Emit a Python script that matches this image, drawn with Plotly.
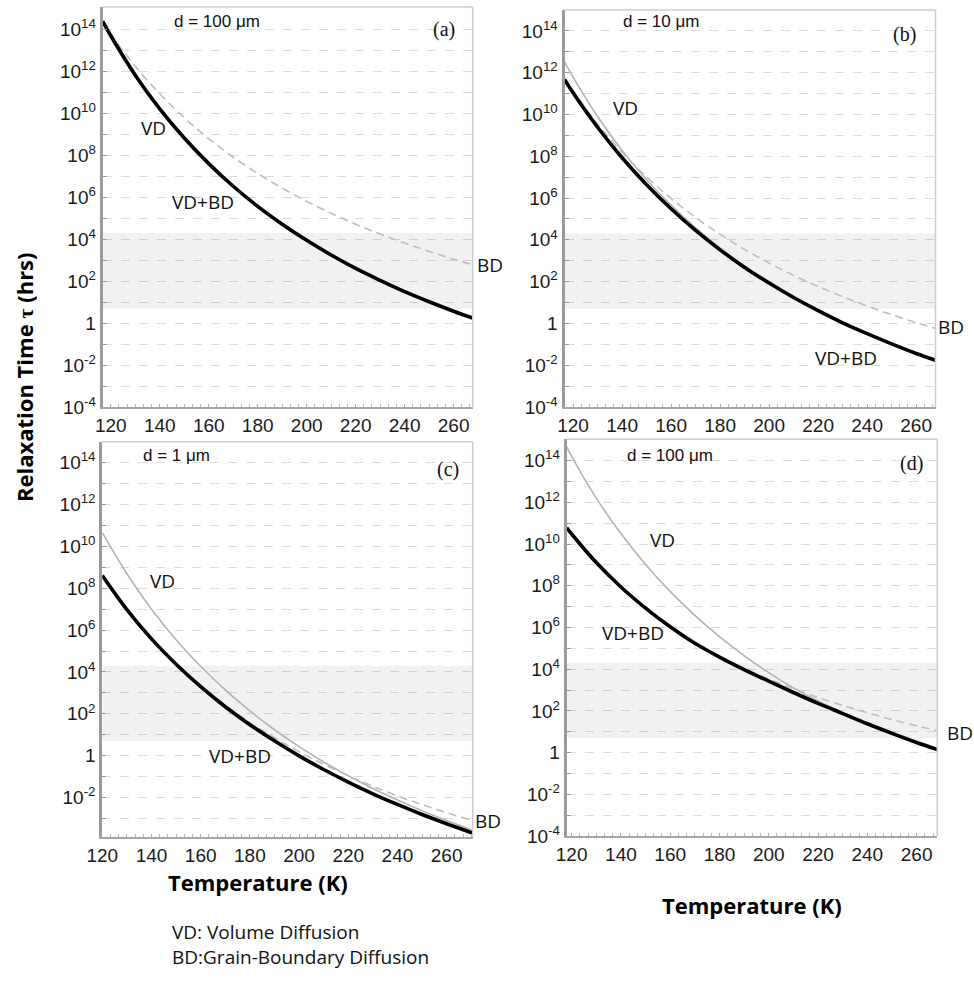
import plotly.graph_objects as go

W, H = 974, 981

# ---------------- data (log10 of relaxation time in hours) ----------------
T_a = [116.7, 120, 130, 140, 150, 160, 170, 180, 190, 200, 210, 220, 230, 240, 250, 260, 267.8]
vdbd_a = [14.40, 13.71, 11.83, 10.22, 8.83, 7.61, 6.53, 5.57, 4.72, 3.95, 3.25, 2.61, 2.04, 1.50, 1.02, 0.57, 0.24]
vd_a = [14.45, 13.75, 11.85, 10.23, 8.84, 7.62, 6.54, 5.58, 4.73, 3.96, 3.26, 2.62, 2.05, 1.51, 1.03, 0.58, 0.25]
bd_a = [14.35, 13.79, 12.25, 10.94, 9.80, 8.80, 7.92, 7.14, 6.44, 5.81, 5.24, 4.72, 4.25, 3.82, 3.42, 3.05, 2.78]

T_b = [116.5, 120, 130, 140, 150, 160, 170, 180, 190, 200, 210, 220, 230, 240, 250, 260, 267.9]
vdbd_b = [11.68, 11.04, 9.39, 7.93, 6.64, 5.49, 4.45, 3.52, 2.68, 1.93, 1.24, 0.61, 0.03, -0.49, -0.98, -1.44, -1.76]
vd_b = [12.52, 11.79, 9.90, 8.28, 6.88, 5.66, 4.57, 3.61, 2.75, 1.98, 1.28, 0.64, 0.06, -0.47, -0.96, -1.42, -1.75]
bd_b = [11.75, 11.13, 9.55, 8.19, 7.01, 5.98, 5.07, 4.27, 3.54, 2.89, 2.30, 1.77, 1.28, 0.83, 0.42, 0.04, -0.24]

T_c = [120, 130, 140, 150, 160, 170, 180, 190, 200, 210, 220, 230, 240, 250, 260, 270.5]
vdbd_c = [8.61, 6.98, 5.58, 4.37, 3.30, 2.34, 1.48, 0.71, -0.01, -0.66, -1.26, -1.82, -2.33, -2.81, -3.25, -3.69]
vd_c = [10.65, 8.69, 7.00, 5.54, 4.27, 3.14, 2.14, 1.24, 0.43, -0.30, -0.96, -1.57, -2.12, -2.63, -3.10, -3.56]
bd_c = [8.61, 6.99, 5.60, 4.40, 3.35, 2.42, 1.59, 0.86, 0.19, -0.41, -0.96, -1.46, -1.92, -2.34, -2.72, -3.10]

T_d = [118, 120, 130, 140, 150, 160, 170, 180, 190, 200, 210, 220, 230, 240, 250, 260, 268.4]
vdbd_d = [10.78, 10.48, 9.11, 7.94, 6.93, 6.03, 5.24, 4.58, 3.98, 3.42, 2.88, 2.36, 1.87, 1.38, 0.92, 0.48, 0.14]
vd_d = [14.67, 14.20, 12.20, 10.50, 9.02, 7.73, 6.58, 5.56, 4.65, 3.83, 3.10, 2.47, 1.92, 1.42, 0.97, 0.54, 0.19]
bd_d = [10.78, 10.48, 9.11, 7.94, 6.93, 6.04, 5.25, 4.61, 4.04, 3.53, 3.06, 2.64, 2.26, 1.91, 1.58, 1.28, 1.05]

# shaded observation window (hours)
band_lo, band_hi = 5.0, 2.0e4

x_ticks = [120, 140, 160, 180, 200, 220, 240, 260]
y_major = list(range(-4, 15, 2))
y_minor = list(range(-3, 15, 2))

panels = [
    dict(T=T_a, vdbd=vdbd_a, vd=vd_a, bd=bd_a, xr=[116.7, 267.8], yr=[-4.0, 15.08],
         xd=(102.7, 472.7), yd=(7, 407)),
    dict(T=T_b, vdbd=vdbd_b, vd=vd_b, bd=bd_b, xr=[116.5, 267.9], yr=[-4.0, 15.0],
         xd=(564.5, 935.5), yd=(10, 407)),
    dict(T=T_c, vdbd=vdbd_c, vd=vd_c, bd=bd_c, xr=[120.0, 270.6], yr=[-3.87, 15.0],
         xd=(102.3, 472.7), yd=(441.7, 836.7)),
    dict(T=T_d, vdbd=vdbd_d, vd=vd_d, bd=bd_d, xr=[118.0, 268.4], yr=[-4.0, 15.02],
         xd=(566.7, 937.3), yd=(439.3, 836)),
]


def ylab(k):
    if k == 0:
        return "1"
    return "10<sup>%d</sup>" % k


fig = go.Figure()
layout = dict(width=W, height=H, autosize=False, margin=dict(l=0, r=0, t=0, b=0, pad=0),
              paper_bgcolor="white", plot_bgcolor="white", showlegend=False)
shapes = []
tick_font = dict(family="Liberation Sans, Arial", size=19, color="#1a1a1a")

for i, p in enumerate(panels):
    n = "" if i == 0 else str(i + 1)
    xa, ya = "x" + n, "y" + n
    # band
    fig.add_trace(go.Scatter(x=[p["xr"][0], p["xr"][1], p["xr"][1], p["xr"][0]],
                             y=[band_lo, band_lo, band_hi, band_hi], fill="toself",
                             fillcolor="rgba(0,0,0,0.055)", line=dict(width=0),
                             mode="lines", hoverinfo="skip", xaxis=xa, yaxis=ya))
    fig.add_trace(go.Scatter(x=p["T"], y=[10 ** v for v in p["vd"]], mode="lines",
                             line=dict(color="#b3b3b3", width=1.6, shape="spline"),
                             xaxis=xa, yaxis=ya))
    fig.add_trace(go.Scatter(x=p["T"], y=[10 ** v for v in p["bd"]], mode="lines",
                             line=dict(color="#bdbdbd", width=1.6, dash="8px,5px", shape="spline"),
                             xaxis=xa, yaxis=ya))
    fig.add_trace(go.Scatter(x=p["T"], y=[10 ** v for v in p["vdbd"]], mode="lines",
                             line=dict(color="black", width=3.6, shape="spline"),
                             xaxis=xa, yaxis=ya))
    layout["xaxis" + n] = dict(
        domain=[p["xd"][0] / W, p["xd"][1] / W], range=p["xr"], anchor=ya,
        automargin=False,
        tickmode="array", tickvals=x_ticks, ticktext=[str(v) for v in x_ticks],
        ticks="inside", ticklen=3, tickcolor="#aaaaaa", showgrid=False,
        showline=True, linecolor="#a6a6a6", linewidth=2, tickfont=tick_font,
        minor=dict(ticks="inside", ticklen=3, tickcolor="#bbbbbb", dtick=20 / 6, tick0=120),
        zeroline=False, fixedrange=True)
    layout["yaxis" + n] = dict(
        domain=[1 - p["yd"][1] / H, 1 - p["yd"][0] / H], type="log", range=p["yr"],
        anchor=xa, automargin=False,
        tickmode="array", tickvals=[10 ** k for k in y_major],
        ticktext=[ylab(k) for k in y_major], ticks="inside", ticklen=4,
        tickcolor="#9a9a9a", showgrid=True, gridcolor="#dcdcdc", gridwidth=1,
        griddash="dash",
        minor=dict(tickmode="array", tickvals=[10 ** k for k in y_minor], ticks="inside",
                   ticklen=4, tickcolor="#9a9a9a", showgrid=True, gridcolor="#dcdcdc",
                   gridwidth=1, griddash="dash"),
        showline=True, linecolor="#9a9a9a", linewidth=3,
        tickfont=tick_font, zeroline=False, fixedrange=True)
    # top and right frame
    shapes.append(dict(type="line", xref=xa + " domain", yref=ya + " domain",
                       x0=0, x1=1, y0=1, y1=1, line=dict(color="#cccccc", width=1.5)))
    shapes.append(dict(type="line", xref=xa + " domain", yref=ya + " domain",
                       x0=1, x1=1, y0=0, y1=1, line=dict(color="#cccccc", width=1.5)))

layout["shapes"] = shapes

anns = []


def ann(text, px, py, size, family, xanchor="center", yanchor="middle", angle=0,
        color="#111111"):
    anns.append(dict(text=text, x=px / W, y=1 - py / H, xref="paper", yref="paper",
                     xanchor=xanchor, yanchor=yanchor, showarrow=False, textangle=angle,
                     borderpad=0, font=dict(size=size, family=family, color=color)))


sans = "Liberation Sans, Arial"
myr = "Open Sans"
serif = "Liberation Serif, Times New Roman"

# grain sizes
ann("d = 100 \u03bcm", 217, 21, 17, sans)
ann("d = 10 \u03bcm", 661, 22, 17, sans)
ann("d = 1 \u03bcm", 176, 455, 17, sans)
ann("d = 100 \u03bcm", 670, 455, 17, sans)
# panel letters
ann("(a)", 444, 29, 20, serif)
ann("(b)", 904, 34, 20, serif)
ann("(c)", 448, 469, 20, serif)
ann("(d)", 911, 463, 20, serif)
# curve labels
ann("VD", 153, 128, 19, myr)
ann("VD+BD", 203, 202, 19, myr)
ann("BD", 490, 265, 19, myr)
ann("VD", 625, 108, 19, myr)
ann("VD+BD", 846, 358, 19, myr)
ann("BD", 951, 327, 19, myr)
ann("VD", 162, 581, 19, myr)
ann("VD+BD", 240, 756, 19, myr)
ann("BD", 488, 821, 19, myr)
ann("VD", 662, 540, 19, myr)
ann("VD+BD", 633, 633, 19, myr)
ann("BD", 960, 733, 19, myr)
# axis titles
ann("<b>Temperature (K)</b>", 258, 882, 22, myr, color="black")
ann("<b>Temperature (K)</b>", 752, 905, 22, myr, color="black")
ann("<b>Relaxation Time <span style='font-family:Liberation Serif'>\u03c4</span> (hrs)</b>",
    24, 503, 22, myr, yanchor="bottom", angle=-90, color="black")
# definitions
ann("VD: Volume Diffusion", 171, 932, 19, myr, xanchor="left")
ann("BD:Grain-Boundary Diffusion", 171, 957, 19, myr, xanchor="left")

layout["annotations"] = anns
fig.update_layout(**layout)
fig.write_html("out.html", config={"displayModeBar": False},
               post_script="document.body.style.margin='0px';")
